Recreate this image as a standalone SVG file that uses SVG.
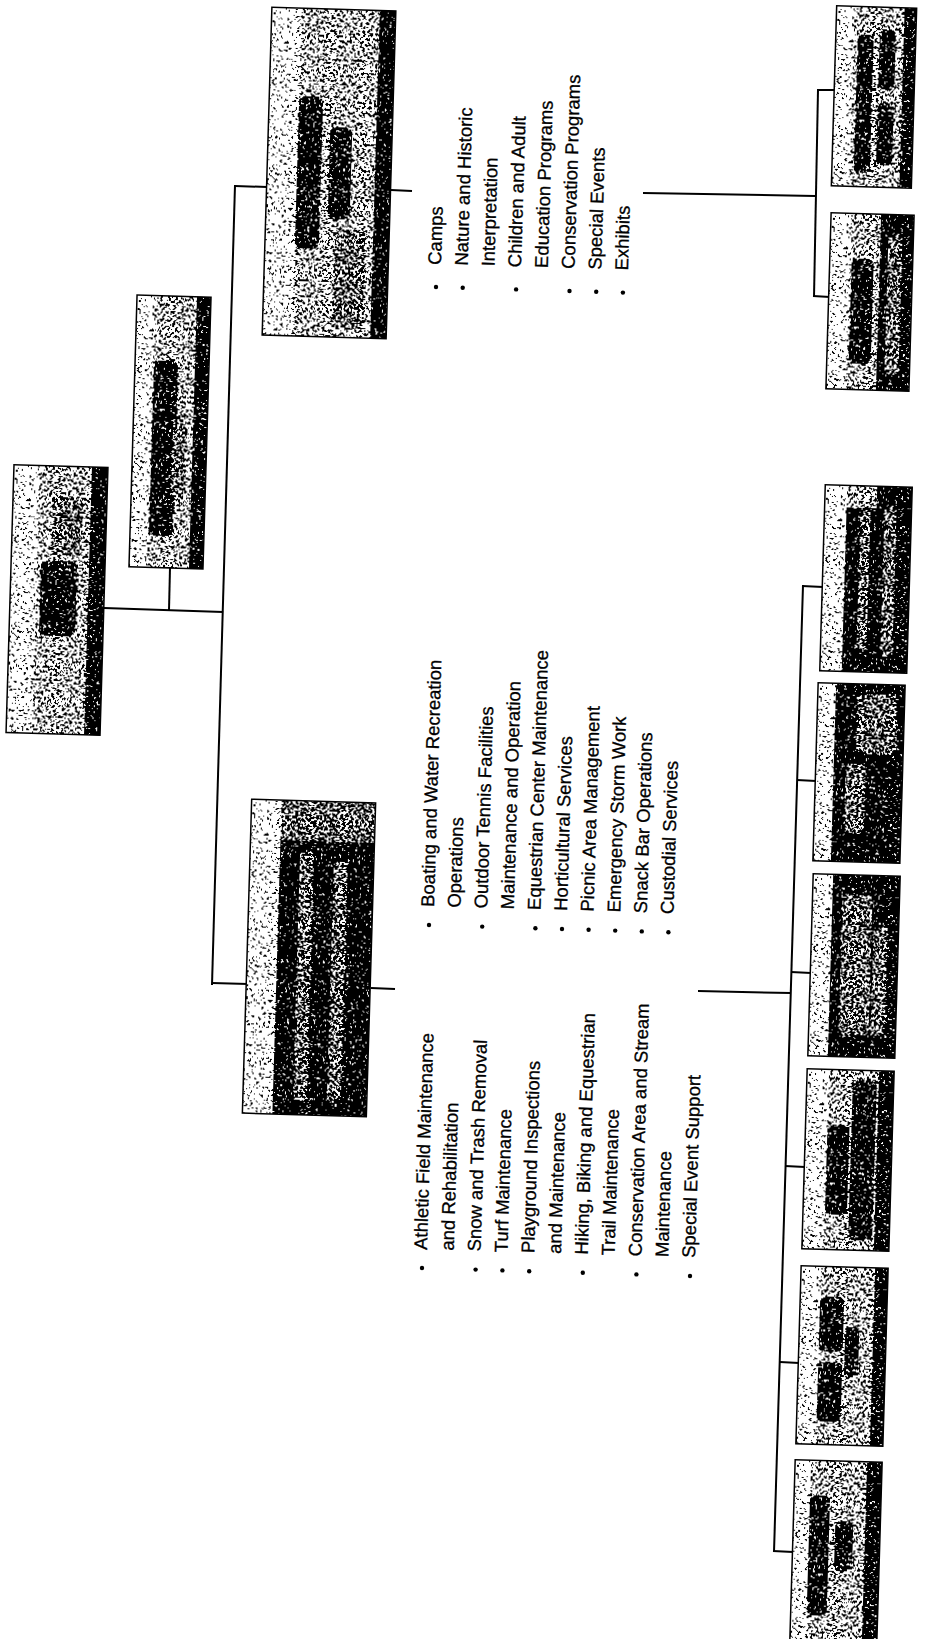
<svg xmlns="http://www.w3.org/2000/svg" width="926" height="1639" viewBox="0 0 926 1639">
<defs>
<filter id="ht" x="0" y="0" width="1" height="1" color-interpolation-filters="sRGB">
<feTurbulence type="fractalNoise" baseFrequency="0.38" numOctaves="2" seed="7" result="n"/>
<feColorMatrix in="n" type="matrix" values="1 0 0 0 0  1 0 0 0 0  1 0 0 0 0  0 0 0 0 1" result="g"/>
<feComposite in="SourceGraphic" in2="g" operator="arithmetic" k1="0" k2="1" k3="2.6" k4="-1.3" result="s"/>
<feComponentTransfer in="s" result="t">
<feFuncR type="discrete" tableValues="0 1"/>
<feFuncG type="discrete" tableValues="0 1"/>
<feFuncB type="discrete" tableValues="0 1"/>
</feComponentTransfer>
<feComposite in="t" in2="SourceAlpha" operator="in"/>
</filter>
</defs>
<style>
.ln{stroke:#000;stroke-width:2;fill:none}
.t{font-family:"Liberation Sans",Arial,sans-serif;font-size:18.5px;fill:#000;stroke:#000;stroke-width:0.3}
.bx{stroke:#000;stroke-width:1.5;fill:none}
.bg{fill:#a0a0a0}
.lt{fill:#dcdcdc}
.dk{fill:#101010}
.bl{fill:#1e1e1e}
.md{fill:#707070}
.bu{fill:#000}
</style>
<rect width="926" height="1639" fill="#fff"/>

<g id="connectors">
<line class="ln" x1="104" y1="608" x2="223" y2="612"/>
<line class="ln" x1="170" y1="568" x2="169" y2="610"/>
<line class="ln" x1="235" y1="185" x2="212" y2="985"/>
<line class="ln" x1="235" y1="186" x2="267" y2="187"/>
<line class="ln" x1="212" y1="983" x2="248" y2="984"/>
<line class="ln" x1="391" y1="190" x2="412" y2="191"/>
<line class="ln" x1="371" y1="988" x2="395" y2="989"/>
<line class="ln" x1="643" y1="193" x2="815" y2="196"/>
<line class="ln" x1="818" y1="90" x2="814" y2="297"/>
<line class="ln" x1="817" y1="90" x2="836" y2="90"/>
<line class="ln" x1="813" y1="296" x2="830" y2="297"/>
<line class="ln" x1="698" y1="991" x2="791" y2="993"/>
<line class="ln" x1="803" y1="585" x2="774" y2="1552"/>
<line class="ln" x1="802" y1="586" x2="823" y2="587"/>
<line class="ln" x1="797" y1="780" x2="816" y2="781"/>
<line class="ln" x1="791" y1="972" x2="811" y2="973"/>
<line class="ln" x1="785" y1="1166" x2="805" y2="1167"/>
<line class="ln" x1="780" y1="1362" x2="799" y2="1363"/>
<line class="ln" x1="773" y1="1551" x2="793" y2="1552"/>
</g>

<g id="root" transform="rotate(1.7 57 600) translate(10 466)">
<g filter="url(#ht)">
<rect width="94" height="268" class="bg"/>
<rect width="26" height="268" class="lt"/>
<rect x="78" width="16" height="268" class="dk"/>
<rect x="30" y="95" width="36" height="75" rx="6" class="bl"/>
<rect x="40" y="30" width="30" height="60" rx="6" class="md"/>
</g>
<rect width="94" height="268" class="bx"/>
</g>

<g id="admin" transform="rotate(1.7 170 432) translate(133 296)">
<g filter="url(#ht)">
<rect width="74" height="272" class="bg"/>
<rect width="18" height="272" class="lt"/>
<rect x="60" width="14" height="272" class="dk"/>
<rect x="19" y="65" width="24" height="175" rx="6" class="bl"/>
<rect x="40" y="120" width="14" height="80" rx="5" class="md"/>
</g>
<rect width="74" height="272" class="bx"/>
</g>

<g id="interp" transform="rotate(1.7 329 173) translate(267 9)">
<g filter="url(#ht)">
<rect width="124" height="328" class="bg"/>
<rect width="30" height="328" class="lt"/>
<rect x="108" width="16" height="328" class="dk"/>
<rect x="30" y="88" width="24" height="152" rx="6" class="bl"/>
<rect x="62" y="118" width="22" height="92" rx="6" class="bl"/>
<rect x="70" y="220" width="30" height="100" rx="6" class="md"/>
</g>
<rect width="124" height="328" class="bx"/>
</g>

<g id="ops" transform="rotate(1.7 309 958) translate(247 801)">
<g filter="url(#ht)">
<rect width="124" height="314" class="dk"/>
<rect width="30" height="314" class="lt"/>
<rect x="30" width="94" height="40" class="md"/>
<rect x="50" y="50" width="14" height="250" rx="5" class="md"/>
<rect x="84" y="60" width="14" height="240" rx="5" class="md"/>
</g>
<rect width="124" height="314" class="bx"/>
</g>

<g id="nature-a" transform="rotate(1.7 874 97) translate(834 7)">
<g filter="url(#ht)">
<rect width="80" height="180" class="bg"/>
<rect width="18" height="180" class="lt"/>
<rect x="68" width="12" height="180" class="dk"/>
<rect x="22" y="28" width="16" height="138" rx="5" class="bl"/>
<rect x="44" y="22" width="16" height="60" rx="5" class="bl"/>
<rect x="44" y="96" width="16" height="62" rx="5" class="bl"/>
</g>
<rect width="80" height="180" class="bx"/>
</g>

<g id="nature-b" transform="rotate(1.7 870 302) translate(828.5 214)">
<g filter="url(#ht)">
<rect width="83" height="176" class="bg"/>
<rect width="20" height="176" class="lt"/>
<rect x="50" width="33" height="176" class="dk"/>
<rect x="22" y="45" width="22" height="105" rx="6" class="bl"/>
<rect x="58" y="20" width="14" height="140" rx="5" class="md"/>
</g>
<rect width="83" height="176" class="bx"/>
</g>

<g id="unit-1" transform="rotate(1.7 866 579) translate(822.5 486)">
<g filter="url(#ht)">
<rect width="87" height="186" class="dk"/>
<rect width="22" height="186" class="lt"/>
<rect x="22" width="30" height="22" class="bg"/>
<rect x="36" y="25" width="10" height="140" rx="4" class="md"/>
<rect x="60" y="20" width="12" height="150" rx="4" class="md"/>
</g>
<rect width="87" height="186" class="bx"/>
</g>

<g id="unit-2" transform="rotate(1.7 859 773) translate(815.5 684)">
<g filter="url(#ht)">
<rect width="87" height="178" class="dk"/>
<rect width="18" height="178" class="lt"/>
<rect x="40" y="10" width="40" height="60" rx="8" class="md"/>
<rect x="30" y="80" width="20" height="70" rx="6" class="md"/>
</g>
<rect width="87" height="178" class="bx"/>
</g>

<g id="unit-3" transform="rotate(1.7 854 966) translate(810.5 875)">
<g filter="url(#ht)">
<rect width="87" height="182" class="dk"/>
<rect width="20" height="182" class="lt"/>
<rect x="30" y="20" width="30" height="140" rx="6" class="md"/>
<rect x="62" y="50" width="14" height="110" rx="4" class="md"/>
</g>
<rect width="87" height="182" class="bx"/>
</g>

<g id="unit-4" transform="rotate(1.7 848 1160) translate(804.5 1070)">
<g filter="url(#ht)">
<rect width="87" height="180" class="bg"/>
<rect width="22" height="180" class="lt"/>
<rect x="72" width="15" height="180" class="dk"/>
<rect x="22" y="55" width="22" height="90" rx="6" class="bl"/>
<rect x="46" y="10" width="24" height="160" rx="6" class="bl"/>
</g>
<rect width="87" height="180" class="bx"/>
</g>

<g id="unit-5" transform="rotate(1.7 842 1356) translate(798.5 1267)">
<g filter="url(#ht)">
<rect width="87" height="178" class="bg"/>
<rect width="20" height="178" class="lt"/>
<rect x="74" width="13" height="178" class="dk"/>
<rect x="20" y="30" width="24" height="55" rx="6" class="bl"/>
<rect x="20" y="95" width="24" height="60" rx="6" class="bl"/>
<rect x="46" y="60" width="14" height="50" rx="5" class="bl"/>
</g>
<rect width="87" height="178" class="bx"/>
</g>

<g id="unit-6" transform="rotate(1.7 836 1551) translate(792.5 1461)">
<g filter="url(#ht)">
<rect width="87" height="180" class="bg"/>
<rect width="16" height="180" class="lt"/>
<rect x="72" width="15" height="180" class="dk"/>
<rect x="16" y="35" width="20" height="120" rx="6" class="bl"/>
<rect x="42" y="60" width="18" height="50" rx="6" class="bl"/>
</g>
<rect width="87" height="180" class="bx"/>
</g>

<g id="list-interpretation">
<text class="t" transform="translate(441 265) rotate(-88.3)">Camps</text>
<text class="t" transform="translate(467.7 265.8) rotate(-88.3)">Nature and Historic</text>
<text class="t" transform="translate(494.4 266.6) rotate(-88.3)">Interpretation</text>
<text class="t" transform="translate(521.1 267.4) rotate(-88.3)">Children and Adult</text>
<text class="t" transform="translate(547.8 268.2) rotate(-88.3)">Education Programs</text>
<text class="t" transform="translate(574.5 269) rotate(-88.3)">Conservation Programs</text>
<text class="t" transform="translate(601.2 269.8) rotate(-88.3)">Special Events</text>
<text class="t" transform="translate(627.9 270.6) rotate(-88.3)">Exhibits</text>
<circle class="bu" cx="436" cy="287" r="2.2"/>
<circle class="bu" cx="462.7" cy="287.8" r="2.2"/>
<circle class="bu" cx="516.1" cy="289.4" r="2.2"/>
<circle class="bu" cx="569.5" cy="291" r="2.2"/>
<circle class="bu" cx="596.2" cy="291.8" r="2.2"/>
<circle class="bu" cx="622.9" cy="292.6" r="2.2"/>
</g>

<g id="list-operations-right">
<text class="t" transform="translate(434 907) rotate(-88.3)">Boating and Water Recreation</text>
<text class="t" transform="translate(460.6 907.8) rotate(-88.3)">Operations</text>
<text class="t" transform="translate(487.2 908.6) rotate(-88.3)">Outdoor Tennis Facilities</text>
<text class="t" transform="translate(513.8 909.4) rotate(-88.3)">Maintenance and Operation</text>
<text class="t" transform="translate(540.4 910.2) rotate(-88.3)">Equestrian Center Maintenance</text>
<text class="t" transform="translate(567 911) rotate(-88.3)">Horticultural Services</text>
<text class="t" transform="translate(593.6 911.8) rotate(-88.3)">Picnic Area Management</text>
<text class="t" transform="translate(620.2 912.6) rotate(-88.3)">Emergency Storm Work</text>
<text class="t" transform="translate(646.8 913.4) rotate(-88.3)">Snack Bar Operations</text>
<text class="t" transform="translate(673.4 914.2) rotate(-88.3)">Custodial Services</text>
<circle class="bu" cx="429" cy="925" r="2.2"/>
<circle class="bu" cx="482.2" cy="926.6" r="2.2"/>
<circle class="bu" cx="535.4" cy="928.2" r="2.2"/>
<circle class="bu" cx="562" cy="929" r="2.2"/>
<circle class="bu" cx="588.6" cy="929.8" r="2.2"/>
<circle class="bu" cx="615.2" cy="930.6" r="2.2"/>
<circle class="bu" cx="641.8" cy="931.4" r="2.2"/>
<circle class="bu" cx="668.4" cy="932.2" r="2.2"/>
</g>

<g id="list-operations-left">
<text class="t" transform="translate(427 1250) rotate(-88.3)">Athletic Field Maintenance</text>
<text class="t" transform="translate(453.8 1250.8) rotate(-88.3)">and Rehabilitation</text>
<text class="t" transform="translate(480.6 1251.6) rotate(-88.3)">Snow and Trash Removal</text>
<text class="t" transform="translate(507.4 1252.4) rotate(-88.3)">Turf Maintenance</text>
<text class="t" transform="translate(534.2 1253.2) rotate(-88.3)">Playground Inspections</text>
<text class="t" transform="translate(561 1254) rotate(-88.3)">and Maintenance</text>
<text class="t" transform="translate(587.8 1254.8) rotate(-88.3)">Hiking, Biking and Equestrian</text>
<text class="t" transform="translate(614.6 1255.6) rotate(-88.3)">Trail Maintenance</text>
<text class="t" transform="translate(641.4 1256.4) rotate(-88.3)">Conservation Area and Stream</text>
<text class="t" transform="translate(668.2 1257.2) rotate(-88.3)">Maintenance</text>
<text class="t" transform="translate(695 1258) rotate(-88.3)">Special Event Support</text>
<circle class="bu" cx="422" cy="1268" r="2.2"/>
<circle class="bu" cx="475.6" cy="1269.6" r="2.2"/>
<circle class="bu" cx="502.4" cy="1270.4" r="2.2"/>
<circle class="bu" cx="529.2" cy="1271.2" r="2.2"/>
<circle class="bu" cx="582.8" cy="1272.8" r="2.2"/>
<circle class="bu" cx="636.4" cy="1274.4" r="2.2"/>
<circle class="bu" cx="690" cy="1276" r="2.2"/>
</g>
</svg>
